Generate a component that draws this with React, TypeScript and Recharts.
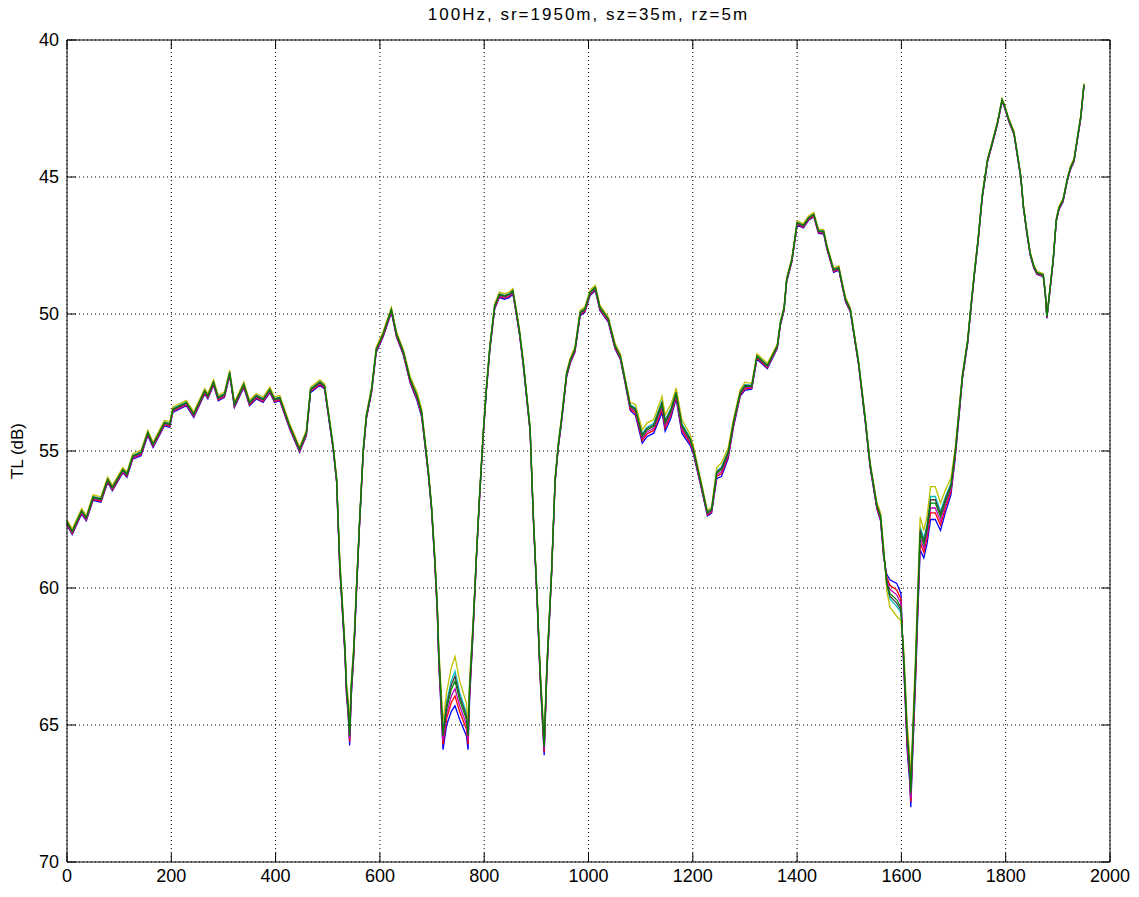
import React from "react";
import {
  LineChart,
  Line,
  XAxis,
  YAxis,
  CartesianGrid,
  ReferenceLine,
} from "recharts";

// range (m) of every sample along the track
const rangeM = [
  0, 10, 28, 37, 50, 65, 78, 87, 107, 115,
  126, 142, 155, 165, 187, 197, 203, 229, 243, 264,
  270, 281, 290, 302, 312, 321, 339, 350, 363, 376,
  389, 398, 408, 427, 446, 459, 467, 485, 494, 504,
  510, 517, 520, 523, 528, 533, 536, 539, 542, 545,
  550, 555, 561, 568, 574, 584, 593, 606, 622, 632,
  645, 658, 671, 680, 686, 693, 699, 705, 710, 713,
  718, 721, 728, 737, 744, 753, 766, 769, 772, 779,
  785, 791, 798, 804, 811, 820, 829, 839, 848, 855,
  862, 868, 875, 888, 894, 902, 907, 915, 920, 929,
  936, 942, 948, 958, 965, 974, 984, 993, 1003, 1013,
  1022, 1038, 1051, 1061, 1070, 1080, 1090, 1103, 1112, 1125,
  1141, 1147, 1158, 1168, 1179, 1195, 1201, 1214, 1228, 1236,
  1246, 1255, 1268, 1278, 1291, 1300, 1313, 1323, 1343, 1362,
  1368, 1375, 1380, 1390, 1400, 1412, 1422, 1432, 1441, 1451,
  1457, 1470, 1480, 1486, 1493, 1502, 1518, 1531, 1540, 1553,
  1560, 1566, 1572, 1578, 1591, 1599, 1604, 1607, 1611, 1616,
  1618, 1622, 1627, 1631, 1636, 1643, 1649, 1656, 1665, 1675,
  1685, 1695, 1703, 1710, 1717, 1727, 1733, 1740, 1747, 1755,
  1765, 1774, 1784, 1793, 1797, 1806, 1816, 1822, 1829, 1834,
  1841, 1847, 1854, 1860, 1872, 1876, 1879, 1884, 1891, 1897,
  1902, 1910, 1918, 1924, 1931, 1937, 1944, 1950,
];

// transmission loss (dB), centre of the bundle
const tlBase = [
  57.6, 57.95, 57.2, 57.45, 56.7, 56.77, 56.05, 56.35, 55.7, 55.86,
  55.2, 55.07, 54.34, 54.77, 53.98, 54.04, 53.49, 53.25, 53.67, 52.82,
  53.0, 52.5, 53.07, 52.94, 52.15, 53.31, 52.58, 53.25, 53.0, 53.13,
  52.77, 53.13, 53.07, 54.1, 54.95, 54.34, 52.77, 52.5, 52.65, 54.0,
  54.8, 56.05, 57.6, 59.1, 60.67, 62.25, 63.7, 64.3, 65.4, 63.7,
  62.25, 60.06, 57.6, 55.0, 53.74, 52.77, 51.3, 50.75, 49.85, 50.75,
  51.4, 52.4, 53.0, 53.6, 54.6, 55.8, 57.05, 58.87, 60.7, 62.5,
  64.3, 65.4, 64.4, 63.7, 63.4, 64.1, 64.8, 65.4, 63.7, 61.3,
  58.87, 56.68, 54.4, 52.77, 51.19, 49.73, 49.3, 49.36, 49.3, 49.17,
  49.96, 50.7, 51.8, 54.2, 57.3, 60.6, 63.0, 65.8, 63.0, 59.5,
  56.05, 54.8, 53.9, 52.2, 51.7, 51.3, 49.96, 49.84, 49.23, 49.05,
  49.78, 50.2, 51.18, 51.55, 52.4, 53.37, 53.5, 54.47, 54.23, 54.1,
  53.3, 53.98, 53.55, 52.9, 54.1, 54.6, 54.95, 56.05, 57.27, 57.15,
  55.8, 55.68, 55.07, 53.98, 52.88, 52.64, 52.64, 51.55, 51.9, 51.18,
  50.33, 49.8, 48.75, 48.02, 46.68, 46.78, 46.5, 46.38, 46.98, 47.0,
  47.54, 48.4, 48.32, 48.87, 49.48, 49.84, 51.8, 53.9, 55.5, 57.0,
  57.4, 58.7, 59.8, 60.2, 60.43, 60.7, 62.4, 63.6, 65.4, 66.6,
  67.5, 65.4, 63.0, 60.7, 58.0, 58.4, 57.9, 56.9, 56.9, 57.4,
  56.8, 56.3, 55.1, 53.7, 52.27, 51.0, 49.8, 48.5, 47.3, 45.7,
  44.4, 43.77, 43.04, 42.19, 42.37, 42.92, 43.4, 44.14, 44.99, 46.08,
  47.06, 47.8, 48.27, 48.5, 48.58, 49.25, 50.1, 49.25, 48.03, 46.57,
  46.14, 45.84, 45.1, 44.68, 44.38, 43.65, 42.8, 41.64,
];

// half width of the bundle of curves (dB) read at each sample; sign = side of the yellow trace
const tlSpread = [
  0.1, 0.1, 0.1, 0.1, 0.1, 0.1, 0.1, 0.1, 0.1, 0.1,
  0.1, 0.1, 0.1, 0.1, 0.1, 0.1, 0.1, 0.1, 0.1, 0.1,
  0.1, 0.1, 0.1, 0.1, 0.1, 0.1, 0.1, 0.1, 0.1, 0.1,
  0.1, 0.1, 0.1, 0.1, 0.1, 0.1, 0.1, 0.1, 0.1, 0.1,
  0.1, 0.1, 0.15, 0.2, 0.2, 0.2, 0.25, 0.3, 0.35, 0.3,
  0.2, 0.15, 0.1, 0.1, 0.1, 0.1, 0.1, 0.1, 0.1, 0.1,
  0.1, 0.12, 0.15, 0.15, 0.12, 0.1, 0.1, 0.15, 0.2, 0.3,
  0.4, 0.5, 0.6, 0.8, 0.9, 0.7, 0.6, 0.5, 0.4, 0.2,
  0.1, 0.1, 0.1, 0.1, 0.1, 0.1, 0.1, 0.1, 0.1, 0.1,
  0.1, 0.1, 0.1, 0.1, 0.1, 0.15, 0.2, 0.3, 0.2, 0.1,
  0.1, 0.1, 0.1, 0.1, 0.1, 0.1, 0.1, 0.1, 0.1, 0.1,
  0.1, 0.1, 0.1, 0.1, 0.1, 0.15, 0.2, 0.25, 0.25, 0.25,
  0.3, 0.3, 0.25, 0.2, 0.25, 0.2, 0.15, 0.12, 0.1, 0.12,
  0.2, 0.25, 0.2, 0.15, 0.12, 0.15, 0.1, 0.1, 0.1, 0.08,
  0.08, 0.08, 0.08, 0.08, 0.08, 0.08, 0.08, 0.08, 0.08, 0.08,
  0.08, 0.08, 0.08, 0.08, 0.08, 0.08, 0.08, 0.1, 0.1, 0.12,
  0.15, 0.2, -0.3, -0.5, -0.6, -0.5, 0.3, 0.4, 0.5, 0.5,
  0.5, 0.5, 0.5, 0.5, 0.6, 0.5, 0.5, 0.6, 0.6, 0.5,
  0.4, 0.3, 0.2, 0.15, 0.1, 0.08, 0.08, 0.08, 0.08, 0.08,
  0.06, 0.06, 0.06, 0.06, 0.06, 0.06, 0.06, 0.06, 0.06, 0.06,
  0.06, 0.06, 0.06, 0.06, 0.06, 0.06, 0.06, 0.06, 0.06, 0.06,
  0.06, 0.06, 0.06, 0.06, 0.06, 0.06, 0.06, 0.06,
];

const xTicks = [0, 200, 400, 600, 800, 1000, 1200, 1400, 1600, 1800, 2000];
const yTicks = [40, 45, 50, 55, 60, 65, 70];

// old MATLAB colour order; each trace sits at a fixed place inside the bundle
const traces = [
  { key: "b", color: "#0000ff", pos: 1 },
  { key: "r", color: "#ff0000", pos: 0.6 },
  { key: "c", color: "#00bfbf", pos: -0.4 },
  { key: "m", color: "#bf00bf", pos: 0.3 },
  { key: "y", color: "#bfbf00", pos: -1 },
  { key: "k", color: "#404040", pos: -0.2 },
  { key: "g", color: "#008000", pos: 0 },
];

const data = rangeM.map((r, i) => {
  const row: Record<string, number> = { range: r };
  traces.forEach((t) => {
    row[t.key] = tlBase[i] + t.pos * tlSpread[i];
  });
  return row;
});

const W = 1139;
const H = 897;
const PLOT_LEFT = 67;
const PLOT_TOP = 40;
const PLOT_RIGHT = 1110;
const PLOT_BOTTOM = 862;
const PLOT_W = PLOT_RIGHT - PLOT_LEFT;
const PLOT_H = PLOT_BOTTOM - PLOT_TOP;
const FONT = "'Liberation Sans', Arial, Helvetica, sans-serif";

function XTick(props: any) {
  const { x, y, payload } = props;
  return (
    <g>
      <line x1={x} y1={y} x2={x} y2={y - 9} stroke="#000" />
      <line x1={x} y1={y - PLOT_H} x2={x} y2={y - PLOT_H + 9} stroke="#000" />
      <text x={x} y={y + 20} textAnchor="middle" fontSize={18} fontFamily={FONT} fill="#000">
        {payload.value}
      </text>
    </g>
  );
}

function YTick(props: any) {
  const { x, y, payload } = props;
  return (
    <g>
      <line x1={x} y1={y} x2={x + 9} y2={y} stroke="#000" />
      <line x1={x + PLOT_W} y1={y} x2={x + PLOT_W - 9} y2={y} stroke="#000" />
      <text x={x - 8} y={y} dy="0.35em" textAnchor="end" fontSize={18} fontFamily={FONT} fill="#000">
        {payload.value}
      </text>
    </g>
  );
}

export default function App() {
  return (
    <div style={{ position: "absolute", left: 0, top: 0, width: W, height: H, background: "#fff" }}>
      <div
        style={{
          position: "absolute",
          left: PLOT_LEFT,
          top: 5,
          width: PLOT_W,
          textAlign: "center",
          fontFamily: FONT,
          fontSize: 17,
          letterSpacing: 2,
          color: "#000",
        }}
      >
        100Hz, sr=1950m, sz=35m, rz=5m
      </div>
      <div
        style={{
          position: "absolute",
          left: 18,
          top: (PLOT_TOP + PLOT_BOTTOM) / 2,
          transform: "translate(-50%, -50%) rotate(-90deg)",
          whiteSpace: "nowrap",
          fontFamily: FONT,
          fontSize: 17,
          color: "#000",
        }}
      >
        TL (dB)
      </div>
      <LineChart
        width={W}
        height={H}
        data={data}
        margin={{ top: PLOT_TOP, right: W - PLOT_RIGHT, bottom: 5, left: 0 }}
      >
        <CartesianGrid stroke="#000" strokeDasharray="1 3" />
        <XAxis
          dataKey="range"
          type="number"
          domain={[0, 2000]}
          ticks={xTicks}
          height={H - PLOT_BOTTOM - 5}
          tickSize={0}
          tickMargin={0}
          tickLine={false}
          axisLine={{ stroke: "#000" }}
          tick={<XTick />}
          interval={0}
        />
        <YAxis
          type="number"
          domain={[40, 70]}
          ticks={yTicks}
          reversed
          width={PLOT_LEFT}
          tickSize={0}
          tickMargin={0}
          tickLine={false}
          axisLine={{ stroke: "#000" }}
          tick={<YTick />}
          interval={0}
        />
        <ReferenceLine y={40} stroke="#000" />
        <ReferenceLine x={2000} stroke="#000" />
        {traces.map((t) => (
          <Line
            key={t.key}
            dataKey={t.key}
            type="linear"
            stroke={t.color}
            strokeWidth={t.key === "g" ? 1.2 : 1.3}
            dot={false}
            activeDot={false}
            isAnimationActive={false}
          />
        ))}
      </LineChart>
    </div>
  );
}
